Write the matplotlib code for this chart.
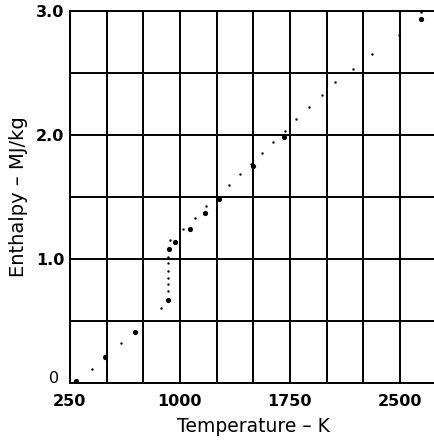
#Enthalpy vs temperature, measured points
import numpy as np
import matplotlib.pyplot as plt
from matplotlib.transforms import ScaledTranslation

plt.rcParams['font.family'] = ['DejaVu Sans']

#Input data: large dots (main runs) and small dots (intermediate points)
T_big = [289, 489, 691, 918, 923, 968, 1068, 1172, 1268, 1500, 1709, 2645]
H_big = [0.016, 0.207, 0.409, 0.669, 1.078, 1.137, 1.244, 1.369, 1.481, 1.75, 1.984, 2.933]

T_small = [398, 596, 873, 916, 916, 916, 916, 916, 916, 932, 1022, 1100, 1177,
           1334, 1409, 1488, 1559, 1636, 1714, 1793, 1880, 1968, 2059, 2177,
           2311, 2491, 2645]
H_small = [0.113, 0.32, 0.608, 0.744, 0.796, 0.849, 0.906, 0.965, 1.014, 1.153,
           1.24, 1.328, 1.427, 1.597, 1.688, 1.765, 1.855, 1.946, 2.035, 2.129,
           2.223, 2.32, 2.427, 2.535, 2.65, 2.809, 2.99]

xticks = [250, 1000, 1750, 2500]
yticks = [0, 1.0, 2.0, 3.0]
yticklabels = ['0', '1.0', '2.0', '3.0']

fig = plt.figure(figsize=(4.34, 4.42), dpi=100)
ax = fig.add_axes([0.161, 0.1335, 0.845, 0.8415])

ax.scatter(T_big, H_big, s=14, c='black', zorder=3, linewidths=0)
ax.scatter(T_small, H_small, s=3, c='black', zorder=3, linewidths=0)

ax.set_xlim(250, 2750)
ax.set_ylim(0, 3.0)

#grid every 250 K and 0.5 MJ/kg
ax.set_xticks(xticks)
ax.set_yticks(yticks)
ax.set_yticklabels(yticklabels)
ax.set_xticks(np.arange(250, 2751, 250), minor=True)
ax.set_yticks(np.arange(0, 3.01, 0.5), minor=True)
ax.grid(True, which='both', color='black', linewidth=1.4)
ax.tick_params(which='both', length=0)
ax.tick_params(axis='x', pad=8, labelsize=11.5)
ax.tick_params(axis='y', pad=4, labelsize=11.5)
for lbl in ax.get_xticklabels() + ax.get_yticklabels():
    lbl.set_fontweight('bold')
#lift the zero label clear of the 250
zero = ax.get_yticklabels()[0]
zero.set_fontweight('normal')
zero.set_transform(zero.get_transform() + ScaledTranslation(-4/72, 4/72, fig.dpi_scale_trans))
for sp in ax.spines.values():
    sp.set_linewidth(1.4)

ax.set_xlabel('Temperature – K', fontsize=13.5, labelpad=6)
ax.set_ylabel('Enthalpy – MJ/kg', fontsize=14, labelpad=6)

plt.savefig('out.png', dpi=100)
